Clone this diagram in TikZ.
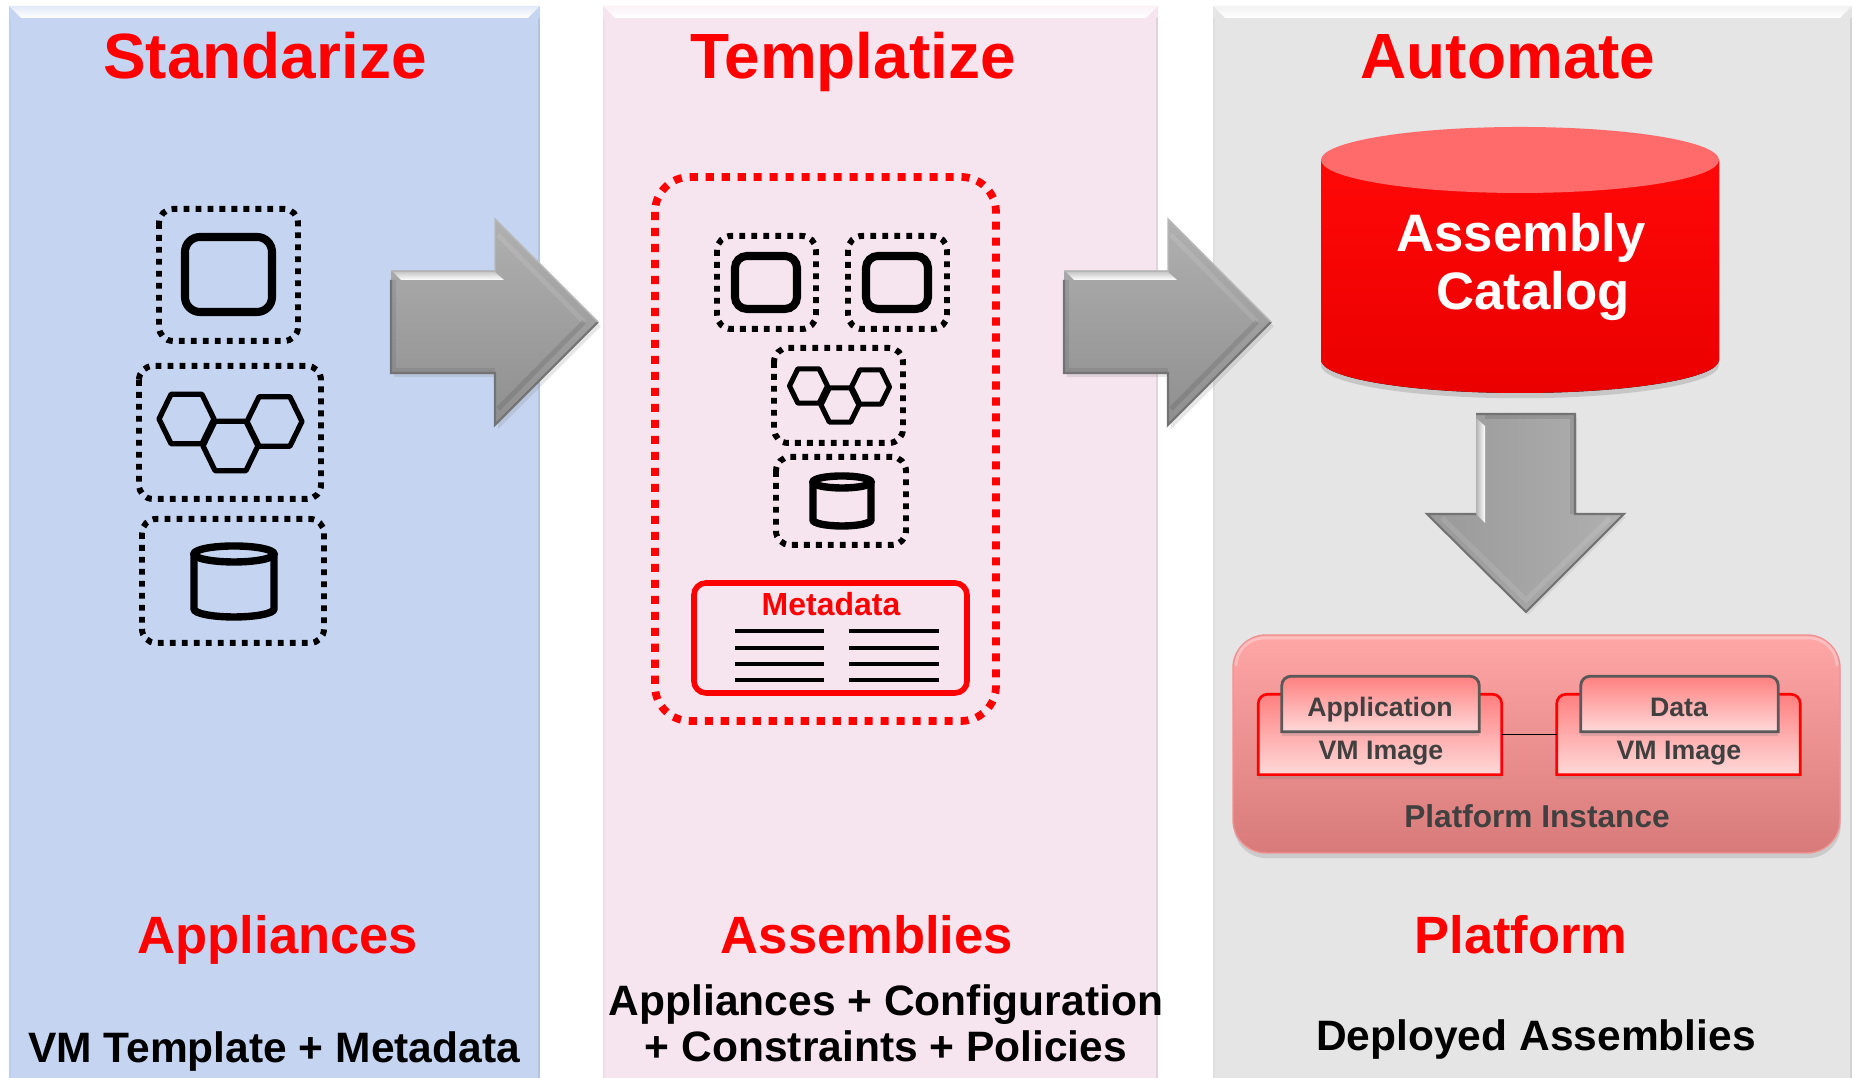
\documentclass[tikz,border=0pt]{standalone}
\usepackage{fontspec}
\setmainfont{Liberation Sans}
\usepackage{tikz}
\usetikzlibrary{shadows}
\definecolor{bluepanel}{HTML}{C5D4F0}
\definecolor{pinkpanel}{HTML}{F6E4EE}
\definecolor{greypanel}{HTML}{E5E5E5}
\definecolor{brightred}{HTML}{FF0000}
\definecolor{darktext}{HTML}{404040}
\definecolor{platformA}{HTML}{FFA6A6}
\definecolor{platformB}{HTML}{F09292}
\definecolor{platformC}{HTML}{D87A7A}
\def\panelbox[#1](#2:#3) {
	\fill[#1] (#2,0) rectangle (#3,10.72);
	\draw[#1!92!black,line width=.6pt] (#3-0.01,0)--(#3-0.01,10.6);
	\draw[#1!97!black,line width=.6pt] (#2+0.01,0)--(#2+0.01,10.6);
	\shade[top color=#1!50!white,bottom color=white] (#2,10.72)--(#3,10.72)--(#3-0.12,10.6)--(#2+0.12,10.6)--cycle;
}
\def\hexcell[#1](#2,#3,#4) {\draw[#1] ({#2-#4},#3)--({#2-.56*#4},{#3+.9*#4})--({#2+.56*#4},{#3+.9*#4})--({#2+#4},#3)--({#2+.56*#4},{#3-.9*#4})--({#2-.56*#4},{#3-.9*#4})--cycle;}
\def\dbicon[#1](#2,#3,#4,#5,#6) {
	\draw[#1] ({#2-#4},#3)--({#2-#4},#6) arc (180:360:#4 and #5)--({#2+#4},#3);
	\draw[#1] (#2,#3) ellipse (#4 and #5);
}
\def\tabshape[#1](#2) {\draw[#1] (#2.south west)--([yshift=-6pt]#2.north west) [rounded corners=2.6pt]--(#2.north west)--(#2.north east)--([yshift=-6pt]#2.north east) [sharp corners]--(#2.south east)--cycle;}
\def\greyarrow(#1) {
	\begin{scope}[shift={(#1,0)}]
	\fill[top color=greyA,bottom color=greyB,drop shadow={shadow xshift=.8pt,shadow yshift=-1.2pt,opacity=.2}] (0,8.07)--(1.04,8.07)--(1.04,8.59)--(2.07,7.56)--(1.04,6.53)--(1.04,7.05)--(0,7.05)--cycle;
	\shade[top color=greyA!70!white,bottom color=white] (0.02,8.06)--(1.04,8.06)--(1.13,7.98)--(0.1,7.98)--cycle;
	\draw[white,opacity=.1,line width=1.4pt] (1.07,8.43)--(1.93,7.56);
	\draw[black,opacity=.1,line width=1.4pt] (1.07,6.69)--(1.93,7.56);
	\draw[black,opacity=.08,line width=1.4pt] (0.03,7.98)--(0.03,7.08)--(1.04,7.08);
	\draw[greyE,line width=.6pt] (0,7.98)--(0,7.05)--(1.04,7.05)--(1.04,6.53)--(2.07,7.56);
	\draw[greyE!50!white,line width=.4pt] (0,8.07)--(1.04,8.07)--(1.04,8.59)--(2.07,7.56);
	\end{scope}
}
\colorlet{greyA}{black!31}
\colorlet{greyB}{black!44}
\colorlet{greyE}{black!55}
\begin{document}
\begin{tikzpicture}[
	headline/.style={anchor=base,text=brightred,font=\fontsize{18.2}{20}\selectfont\bfseries},
	subhead/.style={anchor=base,text=brightred,font=\fontsize{14.95}{17}\selectfont\bfseries},
	footline/.style={anchor=base,text=black,font=\fontsize{12.1}{14}\selectfont\bfseries},
	cattext/.style={anchor=base,text=white,font=\fontsize{15}{17}\selectfont\bfseries},
	smalltext/.style={anchor=base,text=darktext,font=\fontsize{7.6}{9}\selectfont\bfseries},
	dotbox/.style={draw=black,line width=1.7pt,dash pattern=on 1.65pt off 1.76pt,rounded corners=0.14cm},
	reddotbox/.style={draw=brightred,line width=2.2pt,dash pattern=on 2.3pt off 2.25pt,rounded corners=0.35cm},
	iconbox/.style={draw=black,line width=2.3pt,rounded corners=0.12cm},
	hexline/.style={draw=black,line join=round},
	dbline/.style={draw=black,line width=2.1pt},
	vmbox/.style={inner sep=0pt,minimum width=2.42cm,minimum height=0.79cm},
	tabbox/.style={inner sep=0pt,minimum width=1.96cm,minimum height=0.54cm},
	vmfill/.style={draw=brightred,line width=0.75pt,top color=pinkA,bottom color=pinkB,drop shadow={shadow xshift=0pt,shadow yshift=-1.3pt,opacity=.25}},
	tabfill/.style={draw=black!65,line width=0.8pt,top color=pinkA,bottom color=pinkB,drop shadow={shadow xshift=0pt,shadow yshift=-1.3pt,opacity=.25}}
]
	\colorlet{pinkA}{red!50!white}
	\colorlet{pinkB}{red!15!white}
	\useasboundingbox (0,0) rectangle (18.52,10.78);
	
	%PANELS
	\panelbox[bluepanel](0.09:5.40)
	\panelbox[pinkpanel](6.03:11.58)
	\panelbox[greypanel](12.13:18.52)
	
	%ARROWS
	\greyarrow(3.91)
	\greyarrow(10.64)
	\fill[left color=black!40,right color=black!31,drop shadow={shadow xshift=0.6pt,shadow yshift=-.8pt,opacity=.15}] (14.76,6.64)--(15.75,6.64)--(15.75,5.64)--(16.24,5.64)--(15.26,4.66)--(14.27,5.64)--(14.76,5.64)--cycle;
	\shade[left color=black!30,right color=white] (14.76,6.6)--(14.85,6.52)--(14.85,5.55)--(14.76,5.64)--cycle;
	\draw[black,opacity=.1,line width=1.4pt] (14.85,6.61)--(15.72,6.61)--(15.72,5.64);
	\draw[white,opacity=.1,line width=1.4pt] (14.42,5.60)--(15.26,4.78)--(16.10,5.60);
	\draw[black!55,line width=.6pt] (14.76,5.64)--(14.27,5.64)--(15.26,4.66)--(16.24,5.64)--(15.75,5.64)--(15.75,6.64)--(14.76,6.64);
	
	%FIRST PANEL
	\draw[dotbox] (1.59,8.69) rectangle (2.98,7.37);
	\draw[iconbox,rounded corners=0.15cm] (1.85,8.41) rectangle (2.72,7.66);
	\draw[dotbox] (1.39,7.12) rectangle (3.21,5.79);
	\hexcell[hexline,line width=1.5pt](1.865,6.59,0.275)
	\hexcell[hexline,line width=1.5pt](2.305,6.32,0.275)
	\hexcell[hexline,line width=1.5pt](2.745,6.565,0.275)
	\draw[dotbox] (1.42,5.59) rectangle (3.24,4.35);
	\dbicon[dbline](2.34,5.24,0.40,0.08,4.69)
	
	%SECOND PANEL
	\draw[reddotbox] (6.55,9.01) rectangle (9.96,3.57);
	\draw[dotbox] (7.17,8.42) rectangle (8.16,7.49);
	\draw[dotbox] (8.48,8.42) rectangle (9.47,7.49);
	\draw[iconbox] (7.35,8.22) rectangle (7.97,7.69);
	\draw[iconbox] (8.66,8.22) rectangle (9.28,7.69);
	\draw[dotbox] (7.74,7.30) rectangle (9.03,6.35);
	\hexcell[hexline,line width=1.45pt](8.085,6.92,0.19)
	\hexcell[hexline,line width=1.45pt](8.40,6.73,0.19)
	\hexcell[hexline,line width=1.45pt](8.705,6.91,0.19)
	\draw[dotbox] (7.76,6.21) rectangle (9.06,5.33);
	\dbicon[dbline](8.42,5.96,0.29,0.06,5.58)
	\draw[brightred,line width=1.6pt,rounded corners=0.12cm] (6.94,4.95) rectangle (9.67,3.85);
	\foreach \y in {4.47,4.30,4.14,3.98}{
		\draw[line width=1.2pt] (7.35,\y)--(8.24,\y);
		\draw[line width=1.2pt] (8.49,\y)--(9.39,\y);
	}
	\node[anchor=base,text=brightred,font=\fontsize{9.1}{11}\selectfont\bfseries] (metadatatext) at (8.31,4.62) {Metadata};
	
	%CATALOG
	\fill[top color=red!97!white,bottom color=red!92!black,drop shadow={shadow xshift=0pt,shadow yshift=-1.5pt,opacity=.3}] (13.21,9.18)--(13.21,7.18) arc (180:360:1.99 and 0.33)--(17.19,9.18)--cycle;
	\fill[red!58!white] (15.20,9.18) ellipse (1.99 and 0.33);
	\node[cattext] (assemblytext) at (15.21,8.26) {Assembly};
	\node[cattext] (catalogtext) at (15.33,7.68) {Catalog};
	
	%PLATFORM
	\draw[draw=platformB,line width=.4pt,rounded corners=0.33cm,top color=platformA,middle color=platformB,bottom color=platformC,drop shadow={shadow xshift=0.2pt,shadow yshift=-1.5pt,opacity=.25}] (12.33,2.25) rectangle (18.40,4.43);
	\draw[white,opacity=.3,line width=.8pt] (12.36,4.12) arc (180:90:0.28)--(18.09,4.40) arc (90:0:0.28);
	\node[vmbox] (vmapp) at (13.80,3.435) {};
	\node[vmbox] (vmdata) at (16.785,3.435) {};
	\tabshape[vmfill](vmapp)
	\tabshape[vmfill](vmdata)
	\draw[black,line width=.5pt] (vmapp.east)--(vmdata.west);
	\node[tabbox] (tabapp) at (13.805,3.74) {};
	\node[tabbox] (tabdata) at (16.795,3.74) {};
	\tabshape[tabfill](tabapp)
	\tabshape[tabfill](tabdata)
	\node[smalltext] (applicationtext) at (13.80,3.61) {Application};
	\node[smalltext] (datatext) at (16.79,3.61) {Data};
	\node[smalltext] (vmapptext) at (13.81,3.18) {VM Image};
	\node[smalltext] (vmdatatext) at (16.79,3.18) {VM Image};
	\node[smalltext,font=\fontsize{9}{11}\selectfont\bfseries] (platformtext) at (15.37,2.50) {Platform Instance};
	
	%LABELS
	\node[headline] (standarizetext) at (2.65,9.99) {Standarize};
	\node[headline] (templatizetext) at (8.53,9.99) {Templatize};
	\node[headline] (automatetext) at (15.08,9.99) {Automate};
	\node[subhead] (appliancestext) at (2.78,1.24) {Appliances};
	\node[subhead] (assembliestext) at (8.67,1.24) {Assemblies};
	\node[subhead] (platformhead) at (15.21,1.24) {Platform};
	\node[footline] (vmtemplatetext) at (2.74,0.15) {VM Template + Metadata};
	\node[footline] (configtext) at (8.86,0.62) {Appliances + Configuration};
	\node[footline] (policiestext) at (8.86,0.165) {+ Constraints + Policies};
	\node[footline] (deployedtext) at (15.36,0.275) {Deployed Assemblies};
\end{tikzpicture}
\end{document}
